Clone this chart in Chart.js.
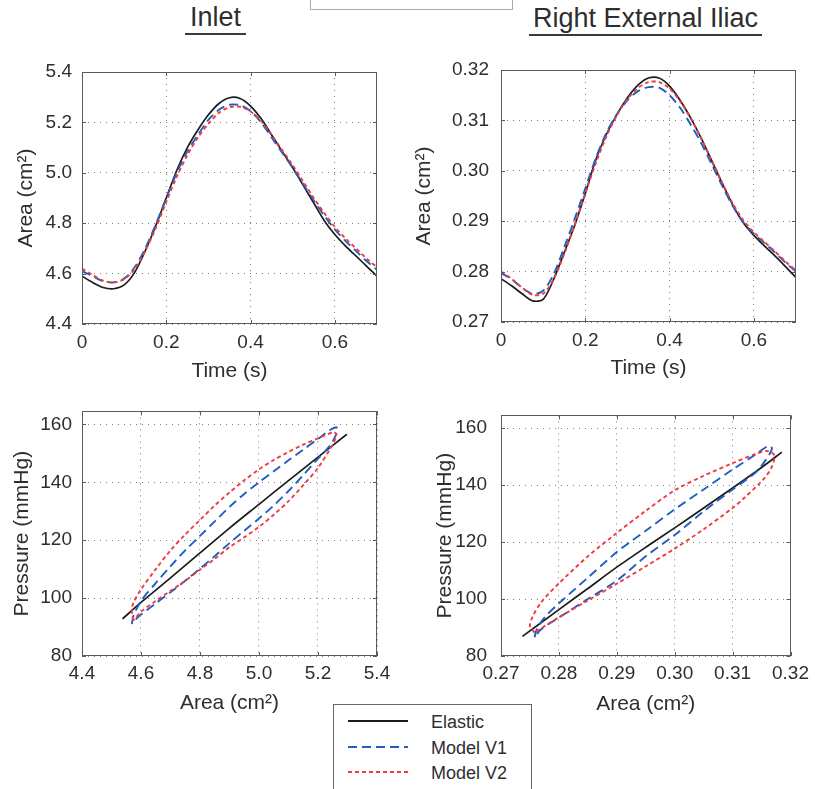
<!DOCTYPE html>
<html lang="en">
<head>
<meta charset="UTF-8">
<title>Inlet / Right External Iliac</title>
<script src="https://cdn.jsdelivr.net/npm/chart.js"></script>
<style>
  body { margin: 0; background: #fff; }
  #fig { position: relative; width: 815px; height: 789px; overflow: hidden; background: #fff;
         font-family: "Liberation Sans", Arial, sans-serif; color: #2e2e2e; }
  #fig canvas { position: absolute; }
  .ttl { position: absolute; font-size: 27px; line-height: 27px; padding: 0 5px 2px;
         border-bottom: 2px solid #3a3a3a; white-space: nowrap; }
  #topbox { position: absolute; left: 310px; top: -20px; width: 201px; height: 28px; border: 1px solid #aaa; }
  #legend { position: absolute; left: 333px; top: 704px; width: 197px; height: 120px;
            border: 1px solid #666; background: #fff; }
  #legend svg { position: absolute; left: 13px; }
  #legend span { position: absolute; left: 97px; font-size: 18px; line-height: 20px; white-space: nowrap; }
</style>
</head>
<body>
<div id="fig">
  <div id="topbox"></div>
  <div class="ttl" style="left:185px; top:4px;">Inlet</div>
  <div class="ttl" style="left:529px; top:5px; padding:0 4px 2px;">Right External Iliac</div>
  <canvas id="inletTime" width="400" height="350" style="left:0; top:40px;"></canvas>
  <canvas id="iliacTime" width="410" height="350" style="left:405px; top:40px;"></canvas>
  <canvas id="inletLoop" width="400" height="340" style="left:0; top:390px;"></canvas>
  <canvas id="iliacLoop" width="410" height="340" style="left:405px; top:390px;"></canvas>
  <div id="legend"></div>
</div>
<script>
const seriesNames = ['Elastic', 'Model V1', 'Model V2'];
const seriesColors = ['#1c1c1c', '#1f5fbf', '#f03c40'];
const seriesDash = [[], [9, 5], [4, 3]];

// time axis (s)
const time = [0, 0.025, 0.05, 0.075, 0.1, 0.125, 0.15, 0.175, 0.2, 0.225, 0.25, 0.275, 0.3, 0.325,
              0.35, 0.375, 0.4, 0.425, 0.45, 0.475, 0.5, 0.525, 0.55, 0.575, 0.6, 0.625, 0.65, 0.675, 0.7];

// Inlet area (cm2) over time
const inletElastic = [4.590, 4.565, 4.545, 4.540, 4.555, 4.605, 4.690, 4.790, 4.900, 5.010, 5.100, 5.170, 5.230, 5.275,
                      5.298, 5.295, 5.265, 5.215, 5.150, 5.085, 5.020, 4.950, 4.880, 4.810, 4.755, 4.710, 4.670, 4.630, 4.590];
const inletV1 = [4.610, 4.590, 4.570, 4.565, 4.580, 4.625, 4.700, 4.795, 4.900, 5.000, 5.085, 5.150, 5.210, 5.250,
                 5.270, 5.268, 5.245, 5.200, 5.140, 5.080, 5.020, 4.955, 4.890, 4.830, 4.775, 4.730, 4.690, 4.650, 4.615];
const inletV2 = [4.620, 4.595, 4.572, 4.565, 4.578, 4.618, 4.690, 4.780, 4.885, 4.985, 5.070, 5.140, 5.195, 5.238,
                 5.260, 5.262, 5.243, 5.205, 5.150, 5.090, 5.030, 4.965, 4.900, 4.840, 4.785, 4.740, 4.700, 4.660, 4.625];

// Right external iliac area (cm2) over time
const iliacElastic = [0.2786, 0.2772, 0.2756, 0.2742, 0.2745, 0.2785, 0.2838, 0.2892, 0.2955, 0.3022, 0.3072, 0.3112, 0.3145, 0.3170,
                      0.3184, 0.3184, 0.3168, 0.3140, 0.3105, 0.3065, 0.3020, 0.2975, 0.2932, 0.2897, 0.2872, 0.2851, 0.2831, 0.2810, 0.2788];
const iliacV1 = [0.2797, 0.2785, 0.2768, 0.2756, 0.2762, 0.2795, 0.2848, 0.2905, 0.2965, 0.3025, 0.3075, 0.3112, 0.3140, 0.3158,
                 0.3166, 0.3165, 0.3150, 0.3125, 0.3092, 0.3055, 0.3013, 0.2970, 0.2930, 0.2898, 0.2875, 0.2857, 0.2838, 0.2818, 0.2800];
const iliacV2 = [0.2800, 0.2786, 0.2768, 0.2754, 0.2756, 0.2785, 0.2835, 0.2893, 0.2955, 0.3015, 0.3068, 0.3110, 0.3142, 0.3164,
                 0.3176, 0.3176, 0.3163, 0.3138, 0.3104, 0.3064, 0.3020, 0.2976, 0.2935, 0.2902, 0.2878, 0.2859, 0.2840, 0.2820, 0.2802];

// pressure-area loops, inlet (area cm2, pressure mmHg)
const inletLoopElasticA = [4.537, 4.6, 4.7, 4.8, 4.9, 5.0, 5.1, 5.2, 5.298];
const inletLoopElasticP = [92.8, 98.5, 107.0, 115.6, 124.2, 132.4, 140.6, 148.7, 156.6];
const inletLoopV1A = [4.569, 4.575, 4.600, 4.650, 4.700, 4.750, 4.800, 4.850, 4.900, 4.950, 5.000, 5.050, 5.100, 5.150,
                      5.200, 5.240, 5.262, 5.266, 5.258, 5.240, 5.200, 5.150, 5.100, 5.050, 5.000, 4.950, 4.900,
                      4.850, 4.800, 4.750, 4.700, 4.650, 4.600, 4.575, 4.569];
const inletLoopV1P = [91.1, 94.0, 99.0, 105.2, 111.0, 116.5, 121.5, 126.5, 131.5, 136.0, 140.0, 143.8, 147.6, 151.3,
                      155.0, 158.0, 159.0, 158.0, 155.8, 152.6, 148.2, 142.5, 137.0, 132.0, 127.5, 123.3, 119.0,
                      114.5, 110.2, 106.0, 102.0, 98.2, 94.3, 92.0, 91.1];
const inletLoopV2A = [4.575, 4.569, 4.573, 4.600, 4.650, 4.700, 4.750, 4.800, 4.850, 4.900, 4.950, 5.000, 5.050, 5.100,
                      5.150, 5.200, 5.253, 5.262, 5.258, 5.245, 5.200, 5.150, 5.100, 5.050, 5.000, 4.950, 4.900,
                      4.850, 4.800, 4.750, 4.700, 4.650, 4.600, 4.575];
const inletLoopV2P = [92.3, 94.5, 98.0, 103.0, 110.0, 116.5, 122.0, 127.0, 132.0, 136.5, 140.7, 144.5, 147.7, 150.5,
                      153.0, 155.2, 157.3, 156.6, 154.8, 152.2, 145.0, 139.0, 133.5, 128.8, 124.6, 121.0, 117.6,
                      113.6, 109.8, 106.0, 102.5, 99.0, 95.3, 92.3];

// pressure-area loops, right external iliac
const iliacLoopElasticA = [0.2737, 0.280, 0.285, 0.290, 0.295, 0.300, 0.305, 0.310, 0.315, 0.3185];
const iliacLoopElasticP = [86.9, 96.3, 103.7, 111.2, 118.2, 125.0, 132.0, 139.0, 146.2, 151.6];
const iliacLoopV1A = [0.2758, 0.2762, 0.2775, 0.280, 0.285, 0.290, 0.295, 0.300, 0.305, 0.310, 0.314, 0.3162,
                      0.3168, 0.3157, 0.314, 0.310, 0.305, 0.300, 0.295, 0.290, 0.285, 0.280, 0.277, 0.2758];
const iliacLoopV1P = [86.6, 89.5, 93.5, 98.5, 107.5, 116.5, 124.0, 131.5, 138.5, 145.5, 150.8, 153.8,
                      152.8, 148.8, 144.5, 138.5, 130.8, 122.5, 115.0, 106.5, 100.0, 93.5, 89.5, 86.6];
const iliacLoopV2A = [0.2758, 0.2750, 0.2755, 0.277, 0.280, 0.285, 0.290, 0.295, 0.300, 0.305, 0.310, 0.314, 0.316,
                      0.3172, 0.3168, 0.3155, 0.312, 0.310, 0.305, 0.300, 0.295, 0.290, 0.285, 0.280, 0.277, 0.2758];
const iliacLoopV2P = [88.2, 90.5, 94.0, 99.0, 105.5, 115.0, 123.2, 131.0, 138.2, 143.3, 147.7, 151.0, 152.0,
                      150.5, 146.6, 142.5, 135.5, 132.0, 124.5, 117.7, 111.5, 105.4, 99.5, 93.6, 89.8, 88.2];

// ticks
const timeTicks = [0, 0.2, 0.4, 0.6];
const timeTickLabels = ['0', '0.2', '0.4', '0.6'];
const inletAreaTicks = [4.4, 4.6, 4.8, 5.0, 5.2, 5.4];
const inletAreaLabels = ['4.4', '4.6', '4.8', '5.0', '5.2', '5.4'];
const iliacAreaTicks = [0.27, 0.28, 0.29, 0.30, 0.31, 0.32];
const iliacAreaLabels = ['0.27', '0.28', '0.29', '0.30', '0.31', '0.32'];
const pressureTicks = [80, 100, 120, 140, 160];
const pressureLabels = ['80', '100', '120', '140', '160'];

const FONT = '"Liberation Sans", Arial, sans-serif';
const TEXT = '#2e2e2e';

function series(xs, ys, i) {
  return {
    label: seriesNames[i],
    data: xs.map((x, k) => ({ x: x, y: ys[k] })),
    borderColor: seriesColors[i],
    borderWidth: i === 0 ? 1.7 : 1.9,
    borderDash: seriesDash[i],
    pointRadius: 0,
    tension: 0.3,
    fill: false,
    order: 2 - i // red on top, black underneath
  };
}

function axis(kind, position, a) {
  return {
    type: 'linear',
    position: position,
    min: a.min,
    max: a.max,
    afterBuildTicks: s => { s.ticks = a.ticks.map(v => ({ value: v })); },
    afterFit: s => { if (kind === 'x') s.height = a.size; else s.width = a.size; },
    grid: { color: '#7c7c7c', lineWidth: 1, drawTicks: false },
    border: { display: false, dash: [1, 5] },
    ticks: {
      autoSkip: false, maxRotation: 0, padding: a.tickPad, color: TEXT,
      font: { family: FONT, size: 19 },
      callback: (v, i) => a.labels[i]
    },
    title: {
      display: true, text: a.title, color: TEXT,
      font: { family: FONT, size: 21 },
      padding: { top: a.titlePad, bottom: a.titlePad }
    }
  };
}

// axes box with small inward ticks, like the original figure
const boxPlugin = {
  id: 'box',
  afterDraw(chart) {
    const { ctx, chartArea: a, scales } = chart;
    ctx.save();
    ctx.strokeStyle = '#5a5a5a';
    ctx.lineWidth = 1;
    ctx.strokeRect(Math.round(a.left) + 0.5, Math.round(a.top) + 0.5,
                   Math.round(a.width) - 1, Math.round(a.height) - 1);
    ctx.beginPath();
    scales.x.ticks.forEach(t => {
      const px = Math.round(scales.x.getPixelForValue(t.value)) + 0.5;
      ctx.moveTo(px, a.bottom); ctx.lineTo(px, a.bottom - 4);
      ctx.moveTo(px, a.top); ctx.lineTo(px, a.top + 4);
    });
    scales.y.ticks.forEach(t => {
      const py = Math.round(scales.y.getPixelForValue(t.value)) + 0.5;
      ctx.moveTo(a.left, py); ctx.lineTo(a.left + 4, py);
      ctx.moveTo(a.right, py); ctx.lineTo(a.right - 4, py);
    });
    ctx.stroke();
    ctx.restore();
  }
};

function panel(id, datasets, pad, xAxis, yAxis) {
  return new Chart(document.getElementById(id), {
    type: 'line',
    data: { datasets: datasets },
    options: {
      responsive: false,
      animation: false,
      events: [],
      layout: { padding: pad },
      plugins: { legend: { display: false }, tooltip: { enabled: false } },
      scales: { x: axis('x', 'bottom', xAxis), y: axis('y', 'left', yAxis) }
    },
    plugins: [boxPlugin]
  });
}

panel('inletTime',
  [series(time, inletElastic, 0), series(time, inletV1, 1), series(time, inletV2, 2)],
  { top: 32, right: 23, bottom: 0, left: 0 },
  { min: 0, max: 0.7, ticks: timeTicks, labels: timeTickLabels, size: 66, tickPad: 7, title: 'Time (s)', titlePad: 6 },
  { min: 4.4, max: 5.4, ticks: inletAreaTicks, labels: inletAreaLabels, size: 82, tickPad: 10, title: 'Area (cm²)', titlePad: 14 });

panel('iliacTime',
  [series(time, iliacElastic, 0), series(time, iliacV1, 1), series(time, iliacV2, 2)],
  { top: 30, right: 19, bottom: 0, left: 0 },
  { min: 0, max: 0.7, ticks: timeTicks, labels: timeTickLabels, size: 68, tickPad: 7, title: 'Time (s)', titlePad: 9 },
  { min: 0.27, max: 0.32, ticks: iliacAreaTicks, labels: iliacAreaLabels, size: 96, tickPad: 12, title: 'Area (cm²)', titlePad: 7 });

panel('inletLoop',
  [series(inletLoopElasticA, inletLoopElasticP, 0), series(inletLoopV1A, inletLoopV1P, 1), series(inletLoopV2A, inletLoopV2P, 2)],
  { top: 13, right: 23, bottom: 0, left: 0 },
  { min: 4.4, max: 5.4, ticks: inletAreaTicks, labels: inletAreaLabels, size: 74, tickPad: 6, title: 'Area (cm²)', titlePad: 14 },
  { min: 80, max: 164.5, ticks: pressureTicks, labels: pressureLabels, size: 82, tickPad: 10, title: 'Pressure (mmHg)', titlePad: 10 });

panel('iliacLoop',
  [series(iliacLoopElasticA, iliacLoopElasticP, 0), series(iliacLoopV1A, iliacLoopV1P, 1), series(iliacLoopV2A, iliacLoopV2P, 2)],
  { top: 13, right: 19, bottom: 0, left: 0 },
  { min: 0.27, max: 0.32, ticks: iliacAreaTicks, labels: iliacAreaLabels, size: 74, tickPad: 6, title: 'Area (cm²)', titlePad: 13 },
  { min: 80, max: 164.5, ticks: pressureTicks, labels: pressureLabels, size: 96, tickPad: 14, title: 'Pressure (mmHg)', titlePad: 28 });

// legend box
const legend = document.getElementById('legend');
seriesNames.forEach((name, i) => {
  const y = 16 + i * 25.5;
  const ns = 'http://www.w3.org/2000/svg';
  const svg = document.createElementNS(ns, 'svg');
  svg.setAttribute('width', '62');
  svg.setAttribute('height', '6');
  svg.style.top = (y - 3) + 'px';
  const ln = document.createElementNS(ns, 'line');
  ln.setAttribute('x1', '1'); ln.setAttribute('x2', '61');
  ln.setAttribute('y1', '3'); ln.setAttribute('y2', '3');
  ln.setAttribute('stroke', seriesColors[i]);
  ln.setAttribute('stroke-width', '1.8');
  if (seriesDash[i].length) ln.setAttribute('stroke-dasharray', seriesDash[i].join(' '));
  svg.appendChild(ln);
  legend.appendChild(svg);
  const txt = document.createElement('span');
  txt.textContent = name;
  txt.style.top = (y - 9) + 'px';
  legend.appendChild(txt);
});
</script>
</body>
</html>
